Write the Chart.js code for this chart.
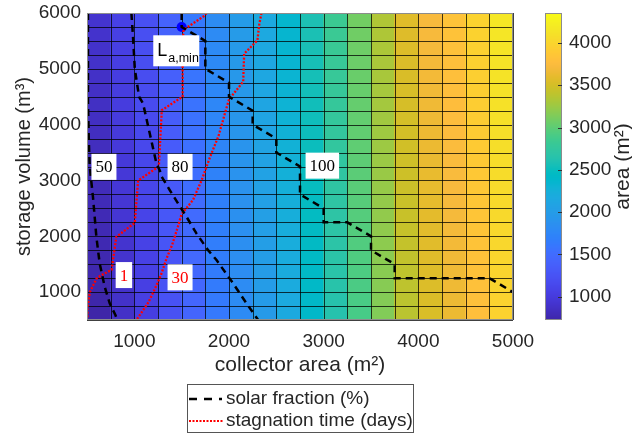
<!DOCTYPE html>
<html><head><meta charset="utf-8">
<script src="https://cdn.jsdelivr.net/npm/chart.js@4.4.1/dist/chart.umd.min.js"></script>
<style>html,body{margin:0;padding:0;background:#fff;}#wrap{width:632px;height:434px;}</style>
</head><body><div id="wrap"><canvas id="c" width="632" height="434"></canvas></div>
<script>
// ---- data ----
const collectorEdges = [500,750,1000,1250,1500,1750,2000,2250,2500,2750,3000,3250,3500,3750,4000,4250,4500,4750,5000];
const storageEdges = [500,750,1000,1250,1500,1750,2000,2250,2500,2750,3000,3250,3500,3750,4000,4250,4500,4750,5000,5250,5500,5750,6000];
// area (m²) of each collector column at the lowest storage row
const colAreaBase = [725,878,1033,1228,1433,1623,1803,1978,2168,2400,2640,2900,3150,3380,3530,3640,3790,3970];
// extra area (m²) added by each storage row
const rowAreaAdd = [0,9,18,27,36,45,54,63,72,81,90,99,108,117,126,135,144,153,162,171,180,189];
const areaRange = [725,4354];
const xTicks = [1000,2000,3000,4000,5000];
const yTicks = [1000,2000,3000,4000,5000,6000];
const cbTicks = [1000,1500,2000,2500,3000,3500,4000];

// solar fraction contours (%)
const sf50 = [[510,6000],[510,4400],[520,3660],[529,3243],[563,2706],[599,1990],[634,1514],[687,1095],[740,798],[800,589],[819,500]];
const sf80 = [[969,6000],[986,5570],[1005,5000],[1050,4500],[1092,4380],[1163,3840],[1234,3300],[1268,3184],[1290,3064],[1374,2826],[1462,2588],[1551,2349],[1656,2051],[1779,1752],[1868,1574],[2043,1157],[2185,798],[2308,500]];
const sf100 = [[1500,6000],[1500,5750],[1750,5500],[1750,5000],[2000,4750],[2000,4500],[2250,4250],[2250,4000],[2500,3750],[2500,3500],[2750,3250],[2750,2750],[3000,2500],[3000,2250],[3250,2250],[3500,2000],[3500,1750],[3750,1500],[3750,1250],[4750,1250],[5000,1000]];
// stagnation time contours (days)
const st1 = [[1762,6000],[1740,5950],[1600,5790],[1520,5700],[1510,5450],[1510,4500],[1290,4260],[1260,3280],[1250,3240],[1040,3000],[1005,2240],[810,1990],[760,1400],[640,1290],[600,1240],[530,1000],[505,700],[505,500]];
const st30 = [[2343,6000],[2320,5800],[2300,5510],[2160,5270],[2150,4770],[2000,4450],[1960,4220],[1890,3800],[1800,3420],[1710,3000],[1620,2650],[1500,2400],[1460,2170],[1400,1850],[1340,1600],[1280,1300],[1220,1070],[1150,820],[1022,500]];
const laMin = [[1500,5750]];

// contour label anchors (data coords)
const contourLabels = [
  {text:'50', x:679, y:3243, color:'#000'},
  {text:'80', x:1483, y:3243, color:'#000'},
  {text:'100', x:2986, y:3265, color:'#000'},
  {text:'1', x:890, y:1305, color:'#ff0000'},
  {text:'30', x:1483, y:1264, color:'#ff0000'}
];
const laMinLabel = {x:1443, y:5323};

// ---- parula colormap ----
const parulaMap = [[0.2422,0.1504,0.6603],[0.2504,0.1650,0.7076],[0.2578,0.1818,0.7511],[0.2647,0.1978,0.7952],[0.2706,0.2147,0.8364],[0.2751,0.2342,0.8710],[0.2783,0.2559,0.8991],[0.2803,0.2782,0.9221],[0.2813,0.3006,0.9414],[0.2810,0.3228,0.9579],[0.2795,0.3447,0.9717],[0.2760,0.3667,0.9829],[0.2699,0.3892,0.9906],[0.2602,0.4123,0.9952],[0.2440,0.4358,0.9988],[0.2206,0.4603,0.9973],[0.1963,0.4847,0.9892],[0.1834,0.5074,0.9798],[0.1786,0.5289,0.9682],[0.1764,0.5499,0.9520],[0.1687,0.5703,0.9359],[0.1540,0.5902,0.9218],[0.1460,0.6091,0.9079],[0.1380,0.6276,0.8973],[0.1248,0.6459,0.8883],[0.1113,0.6635,0.8763],[0.0952,0.6798,0.8598],[0.0689,0.6948,0.8394],[0.0297,0.7082,0.8163],[0.0036,0.7203,0.7917],[0.0067,0.7312,0.7660],[0.0433,0.7411,0.7394],[0.0964,0.7500,0.7120],[0.1408,0.7584,0.6842],[0.1717,0.7670,0.6554],[0.1938,0.7758,0.6251],[0.2161,0.7843,0.5923],[0.2470,0.7918,0.5567],[0.2906,0.7973,0.5188],[0.3406,0.8008,0.4789],[0.3909,0.8029,0.4354],[0.4456,0.8024,0.3909],[0.5044,0.7993,0.3480],[0.5616,0.7942,0.3045],[0.6174,0.7876,0.2612],[0.6720,0.7793,0.2227],[0.7242,0.7698,0.1910],[0.7738,0.7598,0.1646],[0.8203,0.7498,0.1535],[0.8634,0.7406,0.1596],[0.9035,0.7330,0.1774],[0.9393,0.7288,0.2100],[0.9728,0.7298,0.2394],[0.9956,0.7434,0.2371],[0.9970,0.7659,0.2199],[0.9952,0.7893,0.2028],[0.9892,0.8136,0.1885],[0.9786,0.8386,0.1766],[0.9676,0.8639,0.1643],[0.9610,0.8890,0.1537],[0.9597,0.9135,0.1423],[0.9628,0.9373,0.1265],[0.9691,0.9606,0.1064],[0.9769,0.9839,0.0805]];
function parula(v){
  let t=(v-areaRange[0])/(areaRange[1]-areaRange[0]);
  t=Math.max(0,Math.min(1,t));
  const f=t*63, i=Math.floor(f), k=Math.min(63,i+1), r=f-i;
  const a=parulaMap[i], b=parulaMap[k];
  const c=[0,1,2].map(n=>Math.round(255*(a[n]+(b[n]-a[n])*r)));
  return `rgb(${c[0]},${c[1]},${c[2]})`;
}

const TXT='#262626';
const SANS='"Liberation Sans", Arial, sans-serif';
const SERIF='"Liberation Serif", "Times New Roman", serif';

const heatPlugin = {
  id:'heat',
  beforeDatasetsDraw(chart){
    const {ctx, scales:{x,y}} = chart;
    ctx.save();
    for(let i=0;i<storageEdges.length-1;i++){
      for(let j=0;j<collectorEdges.length-1;j++){
        const v=colAreaBase[j]+rowAreaAdd[i];
        const x0=x.getPixelForValue(collectorEdges[j]), x1=x.getPixelForValue(collectorEdges[j+1]);
        const y0=y.getPixelForValue(storageEdges[i+1]), y1=y.getPixelForValue(storageEdges[i]);
        ctx.fillStyle=parula(v);
        ctx.fillRect(Math.floor(x0),Math.floor(y0),Math.ceil(x1)-Math.floor(x0),Math.ceil(y1)-Math.floor(y0));
      }
    }
    ctx.strokeStyle='rgba(0,0,0,0.75)';
    ctx.lineWidth=1;
    ctx.beginPath();
    const top=y.getPixelForValue(storageEdges[storageEdges.length-1]), bot=y.getPixelForValue(storageEdges[0]);
    const lef=x.getPixelForValue(collectorEdges[0]), rig=x.getPixelForValue(collectorEdges[collectorEdges.length-1]);
    collectorEdges.forEach(e=>{const px=Math.round(x.getPixelForValue(e))+0.5;ctx.moveTo(px,top);ctx.lineTo(px,bot);});
    storageEdges.forEach(e=>{const py=Math.round(y.getPixelForValue(e))+0.5;ctx.moveTo(lef,py);ctx.lineTo(rig,py);});
    ctx.stroke();
    ctx.restore();
  },
  afterDatasetsDraw(chart){
    const {ctx, scales:{x,y,cb}, chartArea:ca} = chart;
    ctx.save();
    // contour labels
    ctx.textAlign='center'; ctx.textBaseline='middle';
    ctx.font='17px '+SERIF;
    contourLabels.forEach(l=>{
      const px=x.getPixelForValue(l.x), py=y.getPixelForValue(l.y);
      const w=ctx.measureText(l.text).width+8, h=26;
      ctx.fillStyle='#fff'; ctx.fillRect(px-w/2,py-h/2,w,h);
      ctx.fillStyle=l.color; ctx.fillText(l.text,px,py+1);
    });
    // L_a,min label
    {
      const px=x.getPixelForValue(laMinLabel.x), py=y.getPixelForValue(laMinLabel.y);
      ctx.fillStyle='#fff'; ctx.fillRect(px-23,py-15.5,46,31);
      ctx.fillStyle='#000'; ctx.textAlign='left'; ctx.textBaseline='alphabetic';
      ctx.font='18px '+SANS; ctx.fillText('L',px-19,py+5);
      ctx.font='12.5px '+SANS; ctx.fillText('a,min',px-8,py+11);
    }
    // axes box
    ctx.strokeStyle='#8c8c8c'; ctx.lineWidth=1;
    ctx.strokeRect(Math.round(ca.left)+0.5,Math.round(ca.top)+0.5,Math.round(ca.right-ca.left)-1,Math.round(ca.bottom-ca.top)-1);
    // colorbar
    const bx0=545, bx1=562;
    const cTop=cb.getPixelForValue(areaRange[1]), cBot=cb.getPixelForValue(areaRange[0]);
    for(let py=Math.floor(cTop);py<Math.ceil(cBot);py++){
      ctx.fillStyle=parula(cb.getValueForPixel(py+0.5));
      ctx.fillRect(bx0,py,bx1-bx0,1);
    }
    ctx.strokeStyle='#8c8c8c';
    ctx.strokeRect(bx0+0.5,Math.round(cTop)+0.5,bx1-bx0-1,Math.round(cBot-cTop)-1);
    ctx.strokeStyle='#333'; ctx.beginPath();
    cbTicks.forEach(v=>{const py=Math.round(cb.getPixelForValue(v))+0.5;ctx.moveTo(bx1-4,py);ctx.lineTo(bx1,py);});
    ctx.stroke();
    // titles
    ctx.fillStyle=TXT; ctx.textAlign='center'; ctx.textBaseline='middle';
    ctx.font='21px '+SANS;
    ctx.fillText('collector area (m²)',(ca.left+ca.right)/2,365);
    ctx.save(); ctx.translate(24,(ca.top+ca.bottom)/2); ctx.rotate(-Math.PI/2);
    ctx.font='20px '+SANS; ctx.fillText('storage volume (m³)',0,0); ctx.restore();
    ctx.save(); ctx.translate(623,(ca.top+ca.bottom)/2); ctx.rotate(-Math.PI/2);
    ctx.font='21px '+SANS; ctx.fillText('area (m²)',0,0); ctx.restore();
    // legend
    const lx=187, ly=384, lw=227, lh=49;
    ctx.fillStyle='#fff'; ctx.fillRect(lx,ly,lw,lh);
    ctx.strokeStyle='#555'; ctx.lineWidth=1; ctx.strokeRect(lx+0.5,ly+0.5,lw-1,lh-1);
    ctx.lineWidth=2.4; ctx.strokeStyle='#000'; ctx.setLineDash([8,7]);
    ctx.beginPath(); ctx.moveTo(189,399); ctx.lineTo(222,399); ctx.stroke();
    ctx.strokeStyle='#ff0000'; ctx.lineWidth=2.2; ctx.setLineDash([2,1.5]);
    ctx.beginPath(); ctx.moveTo(189,421); ctx.lineTo(223,421); ctx.stroke();
    ctx.setLineDash([]);
    ctx.fillStyle=TXT; ctx.textAlign='left'; ctx.textBaseline='middle'; ctx.font='19px '+SANS;
    ctx.fillText('solar fraction (%)',226,399);
    ctx.fillText('stagnation time (days)',226,421);
    ctx.restore();
  }
};

const toPts = a => a.map(([x,y])=>({x,y}));
const contour = (arr,color,dash,w) => ({data:toPts(arr),showLine:true,borderColor:color,backgroundColor:color,borderWidth:w,borderDash:dash,pointRadius:0,pointHoverRadius:0,fill:false,tension:0});
const plainNum = v => String(v);

new Chart(document.getElementById('c'),{
  type:'scatter',
  data:{datasets:[
    contour(sf50,'#000',[7,5],2.5),
    contour(sf80,'#000',[7,5],2.5),
    contour(sf100,'#000',[7,5],2.5),
    contour(st1,'#ff0000',[2,1.6],2.3),
    contour(st30,'#ff0000',[2,1.6],2.3),
    {data:toPts(laMin),pointRadius:5,pointBackgroundColor:'#0000ff',pointBorderColor:'#0000ff',pointBorderWidth:0,showLine:false}
  ]},
  options:{
    responsive:false, animation:false, devicePixelRatio:1,
    layout:{padding:{top:13,left:0,right:0,bottom:0}},
    plugins:{legend:{display:false},tooltip:{enabled:false}},
    scales:{
      x:{type:'linear',min:500,max:5000,position:'bottom',
        grid:{display:false,drawTicks:true,tickLength:10},border:{display:false},
        afterBuildTicks:s=>{s.ticks=xTicks.map(v=>({value:v}));},
        afterFit:s=>{s.height=114;},
        ticks:{color:TXT,font:{family:SANS,size:19},padding:0,maxRotation:0,autoSkip:false,callback:plainNum}},
      y:{type:'linear',min:500,max:6000,position:'left',
        grid:{display:false,drawTicks:true,tickLength:6},border:{display:false},
        afterBuildTicks:s=>{s.ticks=yTicks.map(v=>({value:v}));},
        afterFit:s=>{s.width=87;},
        ticks:{color:TXT,font:{family:SANS,size:19},padding:0,autoSkip:false,callback:plainNum}},
      cb:{type:'linear',axis:'y',min:areaRange[0],max:areaRange[1],position:'right',
        grid:{display:false,drawTicks:true,tickLength:56},border:{display:false},
        afterBuildTicks:s=>{s.ticks=cbTicks.map(v=>({value:v}));},
        afterFit:s=>{s.width=119;},
        ticks:{color:TXT,font:{family:SANS,size:19},padding:0,autoSkip:false,callback:plainNum}}
    }
  },
  plugins:[heatPlugin]
});
</script></body></html>
